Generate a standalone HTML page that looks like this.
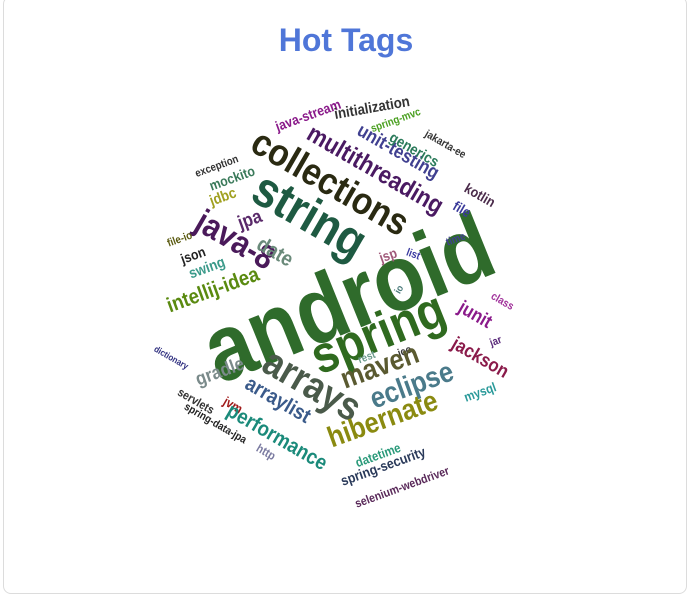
<!DOCTYPE html>
<html><head><meta charset="utf-8"><style>
html,body{margin:0;padding:0;background:#fff;}
body{width:692px;height:598px;position:relative;overflow:hidden;font-family:"Liberation Sans",sans-serif;}
.card{position:absolute;left:3px;top:-4px;width:684px;height:598px;border:1px solid #dcdcdc;border-radius:8px;background:#fff;box-sizing:border-box;}
.title{position:absolute;left:0;width:692px;top:22px;text-align:center;font-size:32px;font-weight:bold;color:#4f76d8;}
.w{position:absolute;white-space:nowrap;font-weight:bold;line-height:1;transform-origin:center;}
</style></head><body>
<div class="card"></div>
<div class="title">Hot Tags</div>
<div id="cloud"></div>
<script>
const words=["android","spring","string","collections","multithreading","unit-testing","generics","jakarta-ee","kotlin","file","time","java-stream","initialization","spring-mvc","exception","mockito","jdbc","jpa","java-8","date","file-io","json","swing","intellij-idea","jsp","list","io","class","junit","jar","jackson","dictionary","gradle","arrays","rest","jco","maven","eclipse","mysql","arraylist","servlets","jvm","spring-data-jpa","performance","hibernate","http","datetime","spring-security","selenium-webdriver"];
const cx=[348,378,310,330,375,398,414,445,480,462,456,308,372,396,217,232,223,250,235,275,180,193,207,213,388,413,400,502,475,496,480,171,220,312,367,405,380,412,480,278,196,233,215,277,383,266,378,383,402];
const cy=[298,333,215,183,170,152,150,145,195,209,240,115,108,121,167,178,197,220,240,252,240,255,268,290,255,255,290,302,315,342,358,358,372,385,358,352,367,386,392,400,401,405,424,437,420,452,455,466,487];
const sizes=[94,52,50,38,25,19,15,11,14,14,11,14,15,11,11,14,15,19,34,21,11,14,15,21,14,11,10,11,19,11,19,9,19,40,11,11,29,29,13,21,12,13,11,21,29,12,13,14,12];
const rot=[-22,-22,30,30,30,30,30,30,30,30,-20,-20,-10,-20,-20,-20,-20,-20,30,30,-20,-20,-20,-20,-20,20,-60,30,30,-20,30,30,-20,30,-20,-20,-20,-20,-20,30,30,30,30,30,-20,30,-20,-20,-20];
const colors=["#2f6b2b","#2f6a1f","#1e5a42","#2a2a12","#4a1a62","#404090","#2a7a5a","#333","#4a2a4a","#3a3a9a","#404090","#8a1a8a","#333","#4aa020","#333","#3a7a5a","#a0a020","#5a2a6a","#4a1a5a","#6a8a7a","#5a5a10","#222","#3a9a8a","#5a8a10","#a05a7a","#3a3aa0","#4a7a7a","#a0309a","#8a1a8a","#5a2a7a","#8a1a4a","#303080","#7a8a8a","#4a5a4a","#6a9a8a","#333","#5a5a30","#4a7a8a","#2a9a9a","#3a5a8a","#333","#a01a1a","#222","#1a8a7a","#8a8a10","#7a7aa0","#2a9a7a","#2a3a5a","#5a2a5a"];
const cloud=document.getElementById('cloud');
for(let i=0;i<words.length;i++){
  const el=document.createElement('span');
  el.className='w';
  el.textContent=words[i];
  el.style.left=cx[i]+'px';el.style.top=cy[i]+'px';
  el.style.fontSize=sizes[i]+'px';el.style.color=colors[i];
  el.style.transform='translate(-50%,-50%) rotate('+rot[i]+'deg) scaleX(0.88)';
  
  
  cloud.appendChild(el);
}
</script>
</body></html>
